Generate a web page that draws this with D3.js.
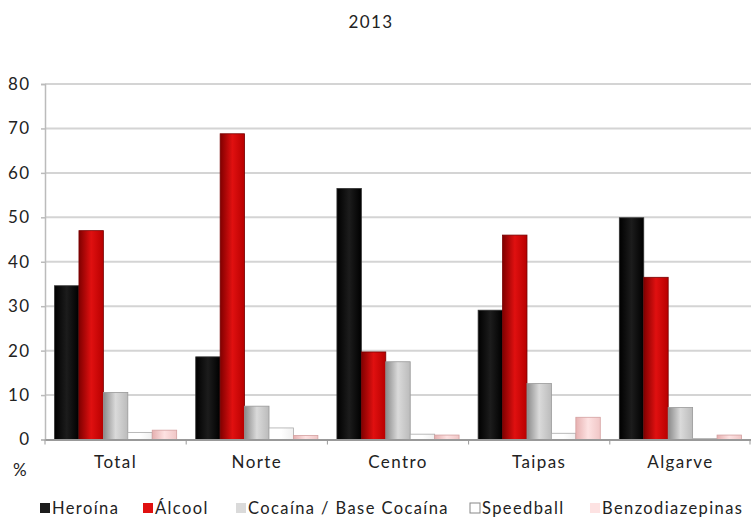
<!DOCTYPE html>
<html><head><meta charset="utf-8">
<script src="https://cdn.jsdelivr.net/npm/d3@7"></script>
<style>body{margin:0;background:#fff}svg{display:block}text{font-family:"Lato","Noto Sans",sans-serif;fill:#222;letter-spacing:1.4px}</style>
</head><body>
<svg id="c" width="751" height="519"></svg>
<script>
const categories = ["Total","Norte","Centro","Taipas","Algarve"];
const seriesNames = ["Heroína","Álcool","Cocaína / Base Cocaína","Speedball","Benzodiazepinas"];
const heroina = [34.6, 18.6, 56.5, 29.1, 49.9];
const alcool = [47.0, 68.8, 19.7, 46.0, 36.5];
const cocaina = [10.6, 7.5, 17.5, 12.6, 7.2];
const speedball = [1.6, 2.6, 1.2, 1.4, 0.2];
const benzo = [2.1, 0.9, 1.0, 5.0, 1.0];
const yTicks = [0,10,20,30,40,50,60,70,80];
const title = "2013";

const seriesValues = [heroina, alcool, cocaina, speedball, benzo];
const svg = d3.select("#c");
const m = {l:45, r:751, t:84, b:439.5};
const FONT = '"Lato","Noto Sans",sans-serif';

const defs = svg.append("defs");
const grads = [
  ["#000","#1c1c1c","#000"],
  ["#800000","#e01010","#b80000"],
  ["#8a8a8a","#dadada","#bbbbbb"],
  ["#ffffff","#ffffff","#f0f0f0"],
  ["#e6b0b0","#fde2e2","#f0c6c6"]
];
const stroke = ["#333","#700","#999","#aaa","#d4a0a0"];
grads.forEach((g,i)=>{
  const lg = defs.append("linearGradient").attr("id","g"+i).attr("x1","0").attr("x2","1").attr("y1","0").attr("y2","0");
  lg.append("stop").attr("offset","0").attr("stop-color",g[0]);
  lg.append("stop").attr("offset","0.5").attr("stop-color",g[1]);
  lg.append("stop").attr("offset","1").attr("stop-color",g[2]);
});

const x = d3.scaleBand().domain(categories).range([m.l, m.r]).paddingInner(0).paddingOuter(0);
const x1 = d3.scaleBand().domain(d3.range(5)).range([0, x.bandwidth()]).paddingOuter(0.39).paddingInner(0);
const y = d3.scaleLinear().domain([0,80]).range([m.b, m.t]);

// gridlines
svg.append("g").selectAll("line").data(yTicks.slice(1)).join("line")
  .attr("x1", m.l).attr("x2", m.r).attr("y1", d=>y(d)).attr("y2", d=>y(d))
  .attr("stroke","#d4d4d4").attr("stroke-width",2);

// y axis
const ya = svg.append("g").attr("transform",`translate(${m.l},0)`)
  .call(d3.axisLeft(y).tickValues(yTicks).tickSize(4).tickPadding(12));
ya.select(".domain").attr("stroke","#bbb").attr("stroke-width",1.5);
ya.selectAll(".tick line").attr("stroke","#bbb").attr("stroke-width",1.5);
ya.selectAll("text").style("font-size","17px").attr("fill","#222").style("font-family",FONT).attr("dx","1.4");

// bars
categories.forEach((c,ci)=>{
  seriesValues.forEach((vals,si)=>{
    svg.append("rect")
      .attr("x", x(c)+x1(si)).attr("width", x1.bandwidth())
      .attr("y", y(vals[ci])).attr("height", y(0)-y(vals[ci]))
      .attr("fill", `url(#g${si})`).attr("stroke", stroke[si]).attr("stroke-width",0.8);
  });
});

// x axis
const xa = svg.append("g").attr("transform",`translate(0,${m.b})`)
  .call(d3.axisBottom(x).tickSize(0).tickPadding(16));
xa.select(".domain").attr("stroke","#999").attr("stroke-width",2);
xa.selectAll("text").style("font-size","17px").attr("fill","#222").style("font-family",FONT);
svg.append("g").selectAll("line").data(categories.map(c=>x(c)).concat([m.r-1])).join("line")
  .attr("x1",d=>d).attr("x2",d=>d).attr("y1",m.b).attr("y2",m.b+5).attr("stroke","#999").attr("stroke-width",1);

// title and % label
svg.append("text").attr("x",371).attr("y",28).attr("text-anchor","middle").style("font-size","17px").text(title);
svg.append("text").attr("x",13).attr("y",476).style("font-size","17px").text("%");

// legend
const legX = [40, 143, 236, 470, 590];
seriesNames.forEach((n,i)=>{
  svg.append("rect").attr("x",legX[i]).attr("y",503).attr("width",10).attr("height",10)
    .attr("fill", i===3 ? "#fff" : grads[i][1]).attr("stroke", i===3 ? "#888" : "none");
  svg.append("text").attr("x",legX[i]+12).attr("y",514).style("font-size","16.5px").text(n);
});
</script>
</body></html>
